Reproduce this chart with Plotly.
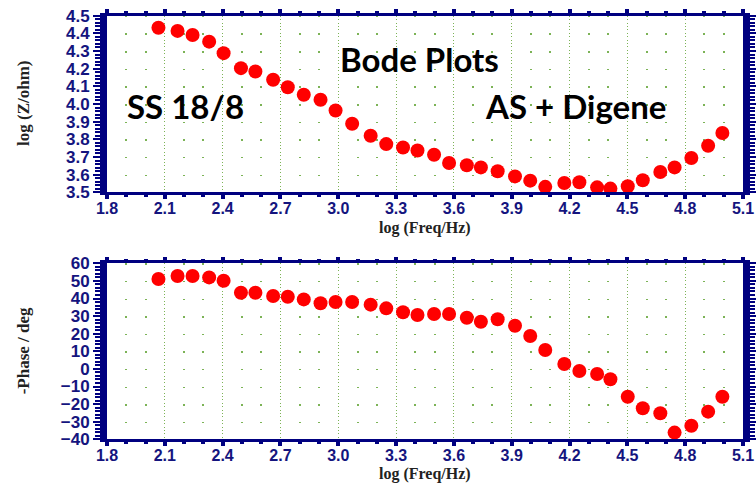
import plotly.graph_objects as go

# ---- data ----
log_freq = [2.067, 2.166, 2.244, 2.330, 2.405, 2.495, 2.570, 2.662, 2.738, 2.821,
            2.908, 2.986, 3.072, 3.168, 3.249, 3.336, 3.411, 3.497, 3.575, 3.667,
            3.740, 3.827, 3.917, 3.996, 4.074, 4.173, 4.251, 4.343, 4.412, 4.502,
            4.580, 4.671, 4.745, 4.832, 4.919, 4.993]
log_z = [4.432, 4.414, 4.391, 4.353, 4.288, 4.203, 4.184, 4.137, 4.095, 4.052,
         4.024, 3.963, 3.888, 3.820, 3.773, 3.754, 3.737, 3.713, 3.666, 3.653,
         3.641, 3.619, 3.590, 3.566, 3.531, 3.553, 3.557, 3.528, 3.521, 3.534,
         3.568, 3.615, 3.641, 3.694, 3.764, 3.836]
neg_phase = [51.1, 52.8, 52.8, 52.0, 50.1, 43.3, 43.3, 41.4, 41.0, 39.5,
             37.3, 38.0, 38.0, 36.5, 34.4, 32.2, 30.6, 31.2, 31.2, 29.1,
             26.8, 28.2, 24.5, 18.7, 10.7, 2.8, -1.2, -2.9, -5.9, -15.8,
             -22.4, -25.2, -36.2, -32.3, -24.3, -15.8]

x_range = [1.8, 5.1]
z_range = [3.5, 4.5]
phase_range = [-40, 60]

# ---- layout geometry ----
W, H = 756, 484
ML, MR, MT, MB = 107, 13, 15, 44
PH = H - MT - MB

def ydom(top_px, bot_px):
    return [(H - MB - bot_px) / PH, (H - MB - top_px) / PH]

def xpaper(px):
    return (px - ML) / (W - ML - MR)

NAVY = "#000080"
TICKC = "#14147e"
GRIDC = "#7cb356"
tickfont = dict(family="Liberation Sans, Arial", size=17, color=TICKC, weight=700)
xtickfont = dict(family="Liberation Sans, Arial", size=16, color=TICKC, weight=700)
titlefont = dict(family="Liberation Serif, Times New Roman", size=17, color="#222222", weight=700)
xtitlefont = dict(family="Liberation Serif, Times New Roman", size=16, color="#222222", weight=700)
label_font = dict(family="Lato, Open Sans", size=33, color="black", weight=700)

fig = go.Figure()
marker = dict(color="#ff0000", size=14, line=dict(width=0))
fig.add_trace(go.Scatter(x=log_freq, y=log_z, mode="markers", marker=marker,
                         xaxis="x", yaxis="y", showlegend=False))
fig.add_trace(go.Scatter(x=log_freq, y=neg_phase, mode="markers", marker=marker,
                         xaxis="x2", yaxis="y2", showlegend=False))

def xaxis_cfg(anchor, ypx_len):
    step = ypx_len / 10.0
    return dict(
        range=x_range, anchor=anchor, domain=[0, 1], automargin=False,
        tick0=1.8, dtick=0.3, tickformat=".1f",
        ticks="outside", ticklen=4, tickwidth=4, tickcolor=NAVY,
        showline=True, linecolor=NAVY, linewidth=2.5, mirror="allticks",
        showgrid=True, gridcolor=GRIDC, gridwidth=1, griddash="1px,2.4px",
        zeroline=False, tickfont=xtickfont, ticklabelstandoff=-4,
        minor=dict(dtick=0.1, tick0=1.8, ticks="outside", ticklen=2, tickwidth=4,
                   tickcolor=NAVY, showgrid=True, gridcolor=GRIDC, gridwidth=1.5,
                   griddash="%.2fpx,%.2fpx" % (1.5, step - 1.5)),
        fixedrange=True,
    )

def yaxis_cfg(anchor, rng, dtick, mdtick, dom, fmt):
    return dict(
        range=rng, anchor=anchor, domain=dom, automargin=False,
        dtick=dtick, tick0=rng[0], tickformat=fmt,
        ticks="outside", ticklen=7, tickwidth=2, tickcolor=NAVY,
        showline=True, linecolor=NAVY, linewidth=7, mirror="allticks",
        showgrid=False, zeroline=False, tickfont=tickfont,
        minor=dict(dtick=mdtick, tick0=rng[0], ticks="outside", ticklen=5,
                   tickwidth=1.5, tickcolor=NAVY, showgrid=False),
        fixedrange=True,
    )

top_px, bot_px = 15.7, 192.3
top2_px, bot2_px = 263.3, 439.3

fig.update_layout(
    width=W, height=H,
    margin=dict(l=ML, r=MR, t=MT, b=MB, autoexpand=False),
    paper_bgcolor="white", plot_bgcolor="white",
    xaxis=xaxis_cfg("y", bot_px - top_px),
    yaxis=yaxis_cfg("x", z_range, 0.1, 0.02, ydom(top_px, bot_px), ".1f"),
    xaxis2=xaxis_cfg("y2", bot2_px - top2_px),
    yaxis2=yaxis_cfg("x2", phase_range, 10, 2, ydom(top2_px, bot2_px), "d"),
)

annotations = [
    # axis titles
    dict(text="log (Freq/Hz)", x=0.5, y=ydom(top_px, bot_px)[0], xref="paper", yref="paper",
         yshift=-(228 - bot_px), showarrow=False, font=xtitlefont, xanchor="center", yanchor="middle"),
    dict(text="log (Freq/Hz)", x=0.5, y=ydom(top2_px, bot2_px)[0], xref="paper", yref="paper",
         yshift=-(474 - bot2_px), showarrow=False, font=xtitlefont, xanchor="center", yanchor="middle"),
    dict(text="log (Z/ohm)", x=xpaper(23), y=sum(ydom(top_px, bot_px)) / 2, xref="paper", yref="paper",
         textangle=-90, showarrow=False, font=titlefont, xanchor="center", yanchor="middle"),
    dict(text="-Phase / deg", x=xpaper(23), y=sum(ydom(top2_px, bot2_px)) / 2, xref="paper", yref="paper",
         textangle=-90, showarrow=False, font=titlefont, xanchor="center", yanchor="middle"),
    # chart labels
    dict(text="Bode Plots", x=3.42, y=4.255, xref="x", yref="y", showarrow=False,
         font=label_font, xanchor="center", yanchor="middle"),
    dict(text="SS 18/8", x=1.893, y=3.99, xref="x", yref="y", showarrow=False,
         font=label_font, xanchor="left", yanchor="middle"),
    dict(text="AS + Digene", x=3.75, y=3.99, xref="x", yref="y", showarrow=False,
         font=label_font, xanchor="left", yanchor="middle"),
]
fig.update_layout(annotations=annotations)

fig.write_html("out.html", post_script="document.body.style.margin='0';",
               config={"displayModeBar": False})
